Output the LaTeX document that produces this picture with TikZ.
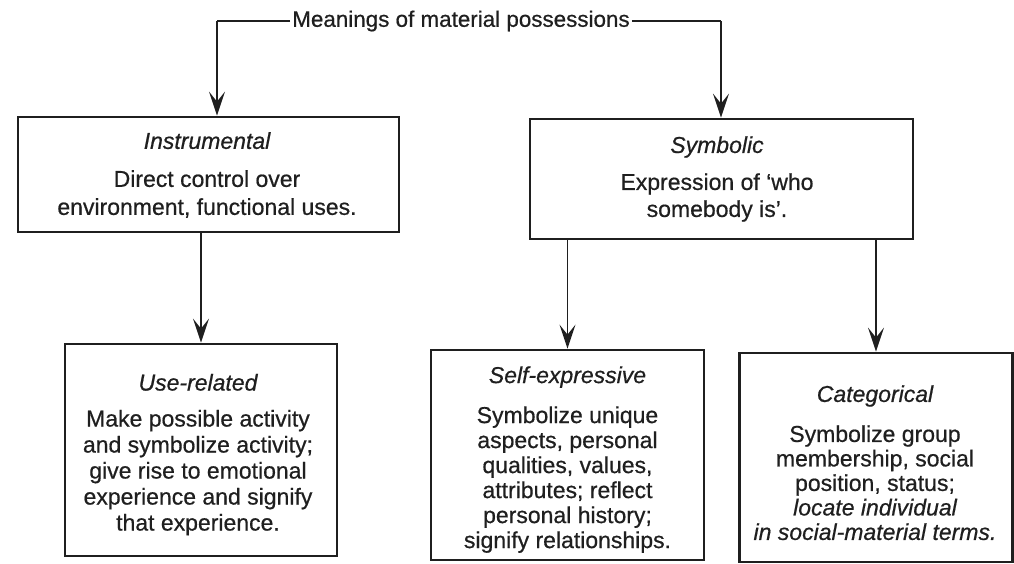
\documentclass[tikz,border=0pt]{standalone}
\usepackage{fontspec}
\setmainfont{Liberation Sans}[FakeBold=0.6]
\usetikzlibrary{arrows.meta}
\begin{document}
\begin{tikzpicture}[x=1pt,y=-1pt,
  box/.style={draw=black!88,line width=2.8pt,inner sep=0pt},
  txt/.style={inner sep=0pt,align=center,text=black!88},
  conn/.style={draw=black!88,line width=1.8pt},
  arr/.style={conn,-{Stealth[length=24pt,width=16pt,inset=10pt]}}]
\useasboundingbox (0,0) rectangle (1014,563);

% title and corners
\node[inner sep=2pt,text=black!88,font=\fontsize{22.4}{26}\selectfont] (title) at (461,21) {Meanings of material possessions};
\coordinate (lc) at (217,21);
\coordinate (rc) at (721,21);

% boxes
\node[box,minimum width=381pt,minimum height=115pt] (instr) at (208.5,174.5) {};
\node[box,minimum width=383pt,minimum height=120pt] (sym) at (721.5,179) {};
\node[box,minimum width=272pt,minimum height=212pt] (use) at (201,450) {};
\node[box,minimum width=273pt,minimum height=210pt] (self) at (567.5,455) {};
\node[box,minimum width=273pt,minimum height=209pt] (cat) at (876,457.5) {};

% texts
\node[txt,font=\fontsize{23}{28}\selectfont] (instr-t) at (207,175)
  {{\itshape Instrumental}\\[10pt] Direct control over\\ environment, functional uses.};
\node[txt,font=\fontsize{23}{27}\selectfont] (sym-t) at (717,179)
  {{\itshape Symbolic}\\[10pt] Expression of ‘who\\ somebody is’.};
\node[txt,font=\fontsize{23}{26}\selectfont] (use-t) at (198,454.6)
  {{\itshape Use-related}\\[10pt] Make possible activity\\ and symbolize activity;\\ give rise to emotional\\ experience and signify\\ that experience.};
\node[txt,font=\fontsize{23}{25}\selectfont] (self-t) at (567.5,459.6)
  {{\itshape Self-expressive}\\[15pt] Symbolize unique\\ aspects, personal\\ qualities, values,\\ attributes; reflect\\ personal history;\\ signify relationships.};
\node[txt,font=\fontsize{23}{24.5}\selectfont] (cat-t) at (875,462.7)
  {{\itshape Categorical}\\[15.5pt] Symbolize group\\ membership, social\\ position, status;\\ {\itshape locate individual}\\ {\itshape in social-material terms.}};

% connectors
\draw[conn] (title.west) -- (lc);
\draw[arr] (lc) -- (lc |- instr.north);
\draw[conn] (title.east) -- (rc);
\draw[arr] (rc) -- (rc |- sym.north);
\draw[arr] (instr.south -| use.north) -- (use.north);
\draw[arr] (sym.south -| self.north) -- (self.north);
\draw[arr] (sym.south -| cat.north) -- (cat.north);
\end{tikzpicture}
\end{document}
